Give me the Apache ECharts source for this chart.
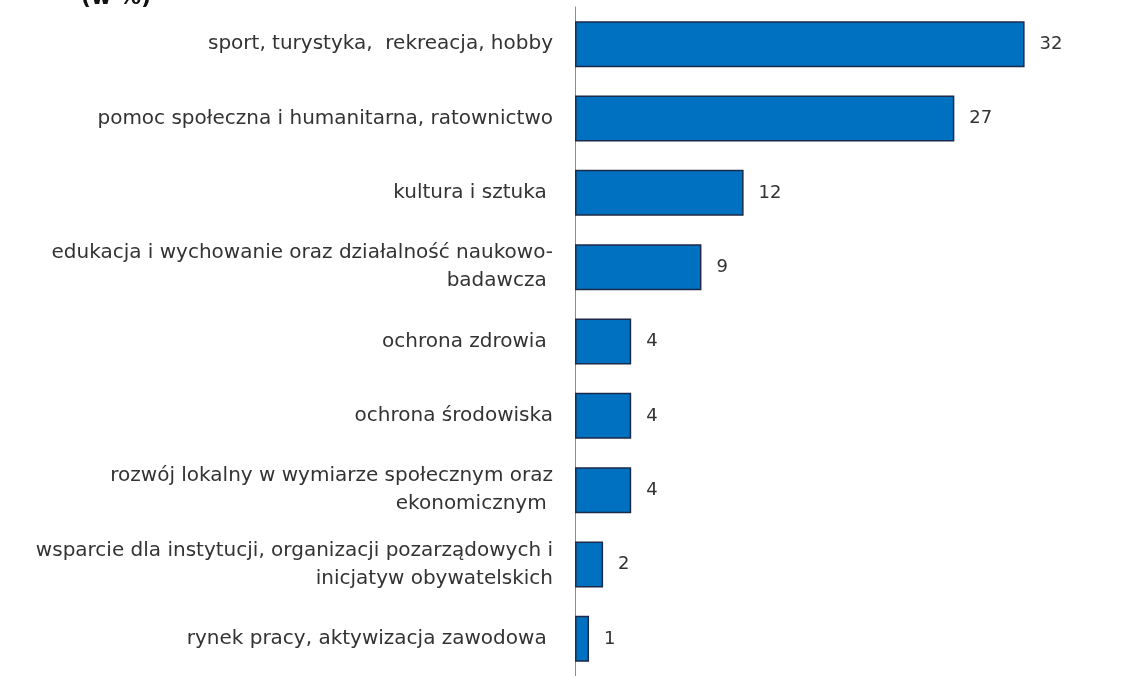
<!DOCTYPE html>
<html>
<head>
<meta charset="utf-8">
<script src="https://cdn.jsdelivr.net/npm/echarts@6/dist/echarts.min.js"></script>
<style>
html,body{margin:0;padding:0;background:#fff;}
#c{width:1141px;height:676px;}
</style>
</head>
<body>
<div id="c"></div>
<script>
var categories = [
  "sport, turystyka,  rekreacja, hobby",
  "pomoc społeczna i humanitarna, ratownictwo",
  "kultura i sztuka ",
  "edukacja i wychowanie oraz działalność naukowo-\nbadawcza ",
  "ochrona zdrowia ",
  "ochrona środowiska",
  "rozwój lokalny w wymiarze społecznym oraz\nekonomicznym ",
  "wsparcie dla instytucji, organizacji pozarządowych i\ninicjatyw obywatelskich",
  "rynek pracy, aktywizacja zawodowa "
];
var values = [32, 27, 12, 9, 4, 4, 4, 2, 1];
var unitLabel = "(w %)";

var chart = echarts.init(document.getElementById('c'));
chart.setOption({
  animation: false,
  backgroundColor: '#ffffff',
  graphic: [{
    type: 'text', left: 81, top: -13,
    style: { text: unitLabel, font: 'bold 22px "DejaVu Sans"', fill: '#111' }
  }],
  grid: { left: 575, top: 7, width: 562, height: 677 },
  xAxis: {
    type: 'value', min: 0, max: 40,
    show: false
  },
  yAxis: {
    type: 'category', data: categories, inverse: true,
    axisLine: { show: true, lineStyle: { color: '#8c8c8c', width: 1 } },
    axisTick: { show: false },
    axisLabel: {
      margin: 22, fontFamily: 'DejaVu Sans', fontSize: 20, color: '#333',
      lineHeight: 28, align: 'right'
    }
  },
  series: [{
    type: 'bar', data: values, barWidth: 46,
    itemStyle: { color: '#0070c0', borderColor: '#1b2a48', borderWidth: 1.5 },
    label: {
      show: true, position: 'right', distance: 15,
      fontFamily: 'DejaVu Sans', fontSize: 18, color: '#333'
    }
  }]
});
</script>
</body>
</html>
